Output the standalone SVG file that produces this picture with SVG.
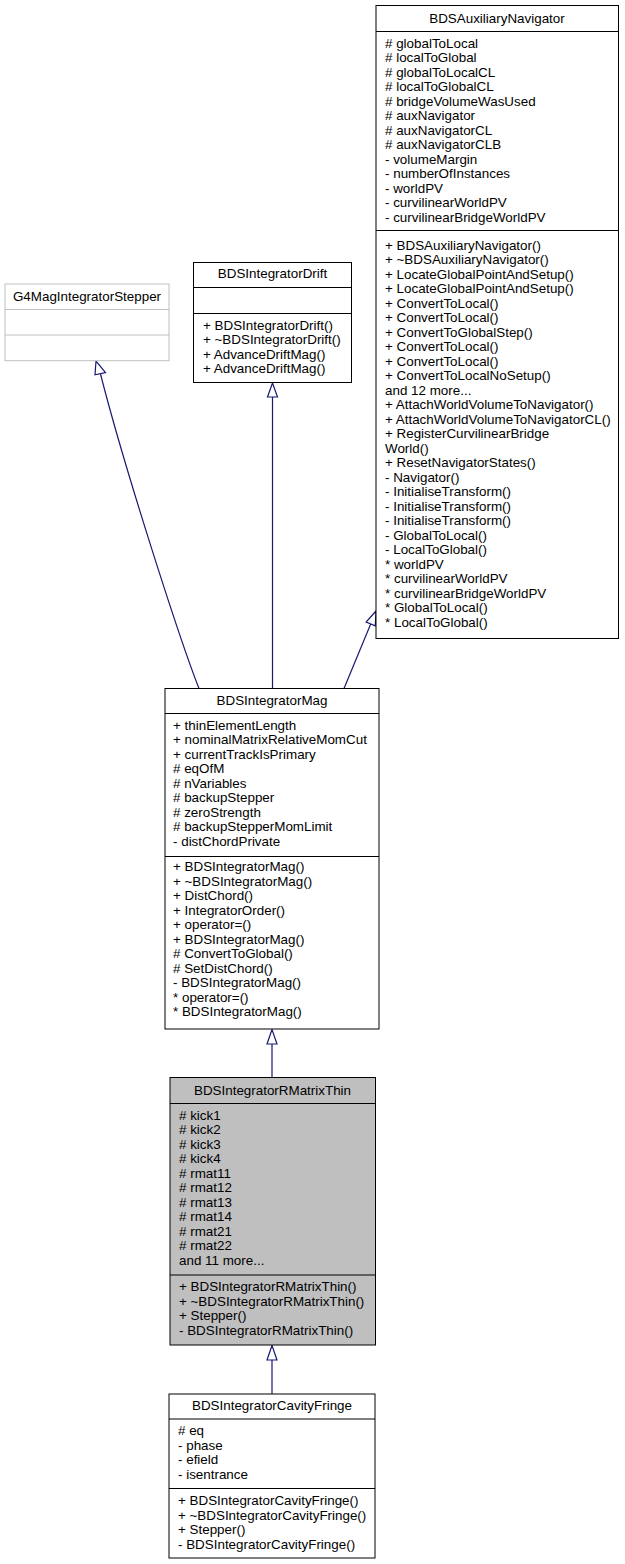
<svg xmlns="http://www.w3.org/2000/svg" width="625" height="1564" viewBox="0 0 625 1564">
<style>
text{font-family:"Liberation Sans",Arial,Helvetica,sans-serif;font-size:13.4px;fill:#000}
.h{text-anchor:middle}
.box{fill:#fff;stroke:#000;stroke-width:1}
.gbox{fill:#bfbfbf;stroke:#000;stroke-width:1}
.ubox{fill:#fff;stroke:#bfbfbf;stroke-width:1}
.sep{stroke:#000;stroke-width:1}
.usep{stroke:#bfbfbf;stroke-width:1}
.edge{fill:none;stroke:#191970;stroke-width:1.2}
.head{fill:#fff;stroke:#191970;stroke-width:1.2}
</style>
<rect width="625" height="1564" fill="#fff"/>
<g id="connectors">
<path class="edge" d="M272,1077.5 L272,1044"/>
<polygon class="head" points="272,1029.5 267,1044 277,1044"/>
<path class="edge" d="M272,1394 L272,1360"/>
<polygon class="head" points="272,1345.5 267,1360 277,1360"/>
<path class="edge" d="M272.5,688.5 L272.5,397"/>
<polygon class="head" points="272.5,383 267.5,397 277.5,397"/>
<path class="edge" d="M199,688.5 C180,640 125,470 100.5,374"/>
<polygon class="head" points="96,361 95,374.8 105.5,372.5"/>
<path class="edge" d="M344,688.5 L370.7,624"/>
<polygon class="head" points="376,611 366.1,622.1 375.3,625.9"/>
</g>
<g id="BDSAuxiliaryNavigator">
<rect class="box" x="376" y="5.5" width="242.5" height="633"/>
<line class="sep" x1="376" y1="31.5" x2="618.5" y2="31.5"/>
<line class="sep" x1="376" y1="230.5" x2="618.5" y2="230.5"/>
<text class="h" x="497" y="23">BDSAuxiliaryNavigator</text>
<text x="385" y="47.8"># globalToLocal</text>
<text x="385" y="62.3"># localToGlobal</text>
<text x="385" y="76.8"># globalToLocalCL</text>
<text x="385" y="91.3"># localToGlobalCL</text>
<text x="385" y="105.8"># bridgeVolumeWasUsed</text>
<text x="385" y="120.3"># auxNavigator</text>
<text x="385" y="134.8"># auxNavigatorCL</text>
<text x="385" y="149.3"># auxNavigatorCLB</text>
<text x="385" y="163.8">- volumeMargin</text>
<text x="385" y="178.3">- numberOfInstances</text>
<text x="385" y="192.8">- worldPV</text>
<text x="385" y="207.3">- curvilinearWorldPV</text>
<text x="385" y="221.8">- curvilinearBridgeWorldPV</text>
<text x="385" y="249.5">+ BDSAuxiliaryNavigator()</text>
<text x="385" y="264">+ ~BDSAuxiliaryNavigator()</text>
<text x="385" y="278.5">+ LocateGlobalPointAndSetup()</text>
<text x="385" y="293">+ LocateGlobalPointAndSetup()</text>
<text x="385" y="307.5">+ ConvertToLocal()</text>
<text x="385" y="322">+ ConvertToLocal()</text>
<text x="385" y="336.5">+ ConvertToGlobalStep()</text>
<text x="385" y="351">+ ConvertToLocal()</text>
<text x="385" y="365.5">+ ConvertToLocal()</text>
<text x="385" y="380">+ ConvertToLocalNoSetup()</text>
<text x="385" y="394.5">and 12 more...</text>
<text x="385" y="409">+ AttachWorldVolumeToNavigator()</text>
<text x="385" y="423.5">+ AttachWorldVolumeToNavigatorCL()</text>
<text x="385" y="438">+ RegisterCurvilinearBridge</text>
<text x="385" y="452.5">World()</text>
<text x="385" y="467">+ ResetNavigatorStates()</text>
<text x="385" y="481.5">- Navigator()</text>
<text x="385" y="496">- InitialiseTransform()</text>
<text x="385" y="510.5">- InitialiseTransform()</text>
<text x="385" y="525">- InitialiseTransform()</text>
<text x="385" y="539.5">- GlobalToLocal()</text>
<text x="385" y="554">- LocalToGlobal()</text>
<text x="385" y="568.5">* worldPV</text>
<text x="385" y="583">* curvilinearWorldPV</text>
<text x="385" y="597.5">* curvilinearBridgeWorldPV</text>
<text x="385" y="612">* GlobalToLocal()</text>
<text x="385" y="626.5">* LocalToGlobal()</text>
</g>
<g id="G4MagIntegratorStepper">
<rect class="ubox" x="5" y="284" width="164" height="76.7"/>
<line class="usep" x1="5" y1="309.5" x2="169" y2="309.5"/>
<line class="usep" x1="5" y1="335" x2="169" y2="335"/>
<text class="h" x="87" y="300.5">G4MagIntegratorStepper</text>
</g>
<g id="BDSIntegratorDrift">
<rect class="box" x="193.5" y="262.5" width="158" height="120"/>
<line class="sep" x1="193.5" y1="287.5" x2="351.5" y2="287.5"/>
<line class="sep" x1="193.5" y1="313.5" x2="351.5" y2="313.5"/>
<text class="h" x="272.5" y="277.5">BDSIntegratorDrift</text>
<text x="203" y="329.5">+ BDSIntegratorDrift()</text>
<text x="203" y="344">+ ~BDSIntegratorDrift()</text>
<text x="203" y="358.5">+ AdvanceDriftMag()</text>
<text x="203" y="373">+ AdvanceDriftMag()</text>
</g>
<g id="BDSIntegratorMag">
<rect class="box" x="165" y="688.5" width="214" height="340.5"/>
<line class="sep" x1="165" y1="713.5" x2="379" y2="713.5"/>
<line class="sep" x1="165" y1="856.5" x2="379" y2="856.5"/>
<text class="h" x="272" y="705.2">BDSIntegratorMag</text>
<text x="173" y="729.5">+ thinElementLength</text>
<text x="173" y="744">+ nominalMatrixRelativeMomCut</text>
<text x="173" y="758.5">+ currentTrackIsPrimary</text>
<text x="173" y="773"># eqOfM</text>
<text x="173" y="787.5"># nVariables</text>
<text x="173" y="802"># backupStepper</text>
<text x="173" y="816.5"># zeroStrength</text>
<text x="173" y="831"># backupStepperMomLimit</text>
<text x="173" y="845.5">- distChordPrivate</text>
<text x="173" y="871">+ BDSIntegratorMag()</text>
<text x="173" y="885.5">+ ~BDSIntegratorMag()</text>
<text x="173" y="900">+ DistChord()</text>
<text x="173" y="914.5">+ IntegratorOrder()</text>
<text x="173" y="929">+ operator=()</text>
<text x="173" y="943.5">+ BDSIntegratorMag()</text>
<text x="173" y="958"># ConvertToGlobal()</text>
<text x="173" y="972.5"># SetDistChord()</text>
<text x="173" y="987">- BDSIntegratorMag()</text>
<text x="173" y="1001.5">* operator=()</text>
<text x="173" y="1016">* BDSIntegratorMag()</text>
</g>
<g id="BDSIntegratorRMatrixThin">
<rect class="gbox" x="170" y="1077.5" width="205.5" height="267.5"/>
<line class="sep" x1="170" y1="1103.5" x2="375.5" y2="1103.5"/>
<line class="sep" x1="170" y1="1275" x2="375.5" y2="1275"/>
<text class="h" x="272.5" y="1094.5">BDSIntegratorRMatrixThin</text>
<text x="179" y="1119.5"># kick1</text>
<text x="179" y="1134"># kick2</text>
<text x="179" y="1148.5"># kick3</text>
<text x="179" y="1163"># kick4</text>
<text x="179" y="1177.5"># rmat11</text>
<text x="179" y="1192"># rmat12</text>
<text x="179" y="1206.5"># rmat13</text>
<text x="179" y="1221"># rmat14</text>
<text x="179" y="1235.5"># rmat21</text>
<text x="179" y="1250"># rmat22</text>
<text x="179" y="1264.5">and 11 more...</text>
<text x="179" y="1291">+ BDSIntegratorRMatrixThin()</text>
<text x="179" y="1305.5">+ ~BDSIntegratorRMatrixThin()</text>
<text x="179" y="1320">+ Stepper()</text>
<text x="179" y="1334.5">- BDSIntegratorRMatrixThin()</text>
</g>
<g id="BDSIntegratorCavityFringe">
<rect class="box" x="169" y="1394" width="206" height="164"/>
<line class="sep" x1="169" y1="1419" x2="375" y2="1419"/>
<line class="sep" x1="169" y1="1488.5" x2="375" y2="1488.5"/>
<text class="h" x="272" y="1410">BDSIntegratorCavityFringe</text>
<text x="178" y="1435"># eq</text>
<text x="178" y="1449.5">- phase</text>
<text x="178" y="1464">- efield</text>
<text x="178" y="1478.5">- isentrance</text>
<text x="178" y="1505">+ BDSIntegratorCavityFringe()</text>
<text x="178" y="1519.5">+ ~BDSIntegratorCavityFringe()</text>
<text x="178" y="1534">+ Stepper()</text>
<text x="178" y="1548.5">- BDSIntegratorCavityFringe()</text>
</g>
</svg>
